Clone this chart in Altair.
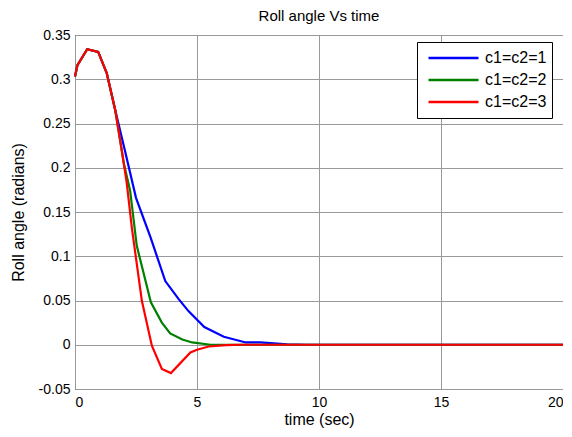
import altair as alt
import pandas as pd

common_t = [0, 0.1, 0.5, 0.95, 1.3, 1.65]
common_v = [0.303, 0.316, 0.334, 0.331, 0.307, 0.265]

blue_t = [2.05, 2.5, 3.1, 3.7, 4.25, 4.65, 5.3, 6.1, 7.0, 7.6, 8.7, 9.5, 20]
blue_v = [0.219, 0.166, 0.121, 0.072, 0.0515, 0.038, 0.020, 0.009, 0.0026, 0.0026, 0.0005, 0, 0]

green_t = [2.0, 2.26, 2.53, 3.11, 3.56, 3.9, 4.4, 4.8, 5.55, 20]
green_v = [0.205, 0.174, 0.112, 0.048, 0.025, 0.0128, 0.006, 0.0026, 0, 0]

red_t = [1.92, 2.12, 2.33, 2.74, 3.15, 3.56, 3.93, 4.73, 5.0, 5.48, 6.2, 6.8, 20]
red_v = [0.219, 0.183, 0.132, 0.0496, -0.001, -0.0274, -0.032, -0.0087, -0.0056, -0.002, -0.0005, 0, 0]

series = ["c1=c2=1", "c1=c2=2", "c1=c2=3"]
colors = ["#0000FF", "#008000", "#FF0000"]

rows = []
for name, ts, vs in [(series[0], blue_t, blue_v), (series[1], green_t, green_v), (series[2], red_t, red_v)]:
    for i, (t, v) in enumerate(zip(common_t + ts, common_v + vs)):
        rows.append({"t": t, "v": v, "s": name, "o": i})
df = pd.DataFrame(rows)

font = "Liberation Sans"

chart = alt.Chart(df).mark_line(strokeWidth=2.2).encode(
    x=alt.X("t:Q", scale=alt.Scale(domain=[0, 20], nice=False),
            axis=alt.Axis(title="time (sec)", values=[0, 5, 10, 15, 20], format="d",
                          labelPadding=6, titlePadding=2)),
    y=alt.Y("v:Q", scale=alt.Scale(domain=[-0.05, 0.35], nice=False),
            axis=alt.Axis(title="Roll angle (radians)",
                          values=[-0.05, 0, 0.05, 0.1, 0.15, 0.2, 0.25, 0.3, 0.35],
                          labelExpr="replace(format(datum.value, '.2~f'), '\u2212', '-')",
                          labelPadding=5, titlePadding=12)),
    color=alt.Color("s:N", scale=alt.Scale(domain=series, range=colors),
                    legend=alt.Legend(title=None, orient="none", legendX=342, legendY=7,
                                      symbolType="stroke", symbolSize=2500, symbolStrokeWidth=2.5,
                                      symbolOffset=5,
                                      strokeColor="black", fillColor="white", padding=5,
                                      labelFont=font, labelFontSize=16, labelColor="black",
                                      labelOffset=5, clipHeight=22, rowPadding=0)),
    order="o:Q",
).properties(
    width=488, height=354,
    title=alt.TitleParams("Roll angle Vs time", font=font, fontSize=15, fontWeight="normal",
                          color="black", offset=4),
    autosize=alt.AutoSizeParams(type="none"),
    padding={"left": 67, "top": 27, "right": 0, "bottom": 40},
).configure_view(
    stroke="black", strokeWidth=1
).configure_axis(
    grid=True, gridColor="#999999", gridWidth=1, domain=False, ticks=False,
    labelFont=font, labelFontSize=14, labelColor="black",
    titleFont=font, titleFontSize=16, titleColor="black", titleFontWeight="normal",
)

chart.save("out.html", embed_options={"renderer": "svg", "actions": False})
